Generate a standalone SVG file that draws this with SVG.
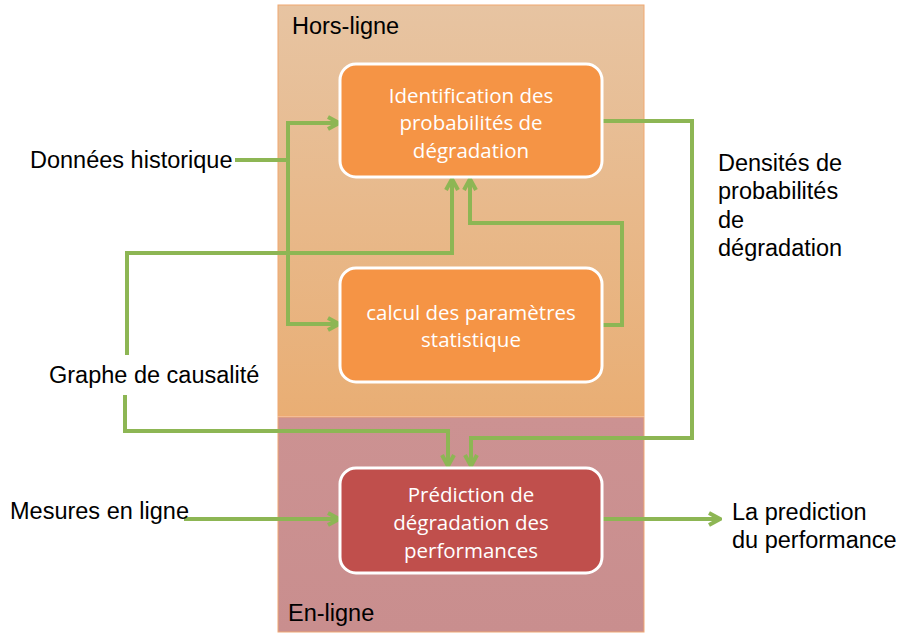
<svg xmlns="http://www.w3.org/2000/svg" width="901" height="635" viewBox="0 0 901 635">
<defs>
<linearGradient id="gOff" x1="0" y1="0" x2="0" y2="1">
<stop offset="0" stop-color="#E7C4A2"/>
<stop offset="1" stop-color="#E9AE74"/>
</linearGradient>
<linearGradient id="gOn" x1="0" y1="0" x2="0" y2="1">
<stop offset="0" stop-color="#CC9292"/>
<stop offset="1" stop-color="#C98E8E"/>
</linearGradient>
<marker id="arr" viewBox="0 0 16 16" refX="14" refY="8" markerWidth="16" markerHeight="16" markerUnits="userSpaceOnUse" orient="auto">
<path d="M3,2 L14,8 L3,14" fill="none" stroke="#8DB654" stroke-width="4" stroke-linejoin="miter"/>
</marker>
</defs>
<style>
.lbl{font-family:"Liberation Sans",Arial,sans-serif;font-size:23.5px;fill:#000}
.btx{font-family:"Open Sans","Noto Sans",sans-serif;font-size:20.5px;fill:#fff;text-anchor:middle}
.box{stroke:#fff;stroke-width:3}
.con{fill:none;stroke:#8DB654;stroke-width:4;stroke-linejoin:miter}
</style>
<rect width="901" height="635" fill="#fff"/>
<g id="hors-ligne">
<rect x="278" y="5" width="366" height="411" fill="url(#gOff)" stroke="#F0A870" stroke-width="1"/>
<text class="lbl" x="292" y="34">Hors-ligne</text>
</g>
<g id="en-ligne">
<rect x="278" y="417" width="366" height="215" fill="url(#gOn)" stroke="#EFA874" stroke-width="1"/>
<text class="lbl" x="288" y="621">En-ligne</text>
</g>
<g id="connectors">
<path class="con" d="M235,160 H288"/>
<path class="con" d="M288,324 V123 H339" marker-end="url(#arr)"/>
<path class="con" d="M288,200 V324 H339" marker-end="url(#arr)"/>
<path class="con" d="M127,355 V253 H452 V179" marker-end="url(#arr)"/>
<path class="con" d="M602,325 H622 V223 H470 V179" marker-end="url(#arr)"/>
<path class="con" d="M125,395 V431 H448 V466" marker-end="url(#arr)"/>
<path class="con" d="M602,121 H692 V438 H471 V466" marker-end="url(#arr)"/>
<path class="con" d="M184,519 H339" marker-end="url(#arr)"/>
<path class="con" d="M602,519 H720" marker-end="url(#arr)"/>
</g>
<g id="n-identification">
<rect class="box" x="340" y="64" width="262" height="113" rx="16" fill="#F59445"/>
<text class="btx" x="471" y="103">Identification des</text>
<text class="btx" x="471" y="130">probabilités de</text>
<text class="btx" x="471" y="158">dégradation</text>
</g>
<g id="n-calcul">
<rect class="box" x="340" y="268" width="262" height="114" rx="16" fill="#F59445"/>
<text class="btx" x="471" y="320">calcul des paramètres</text>
<text class="btx" x="471" y="347">statistique</text>
</g>
<g id="n-prediction">
<rect class="box" x="340" y="468" width="262" height="105" rx="16" fill="#C04F4C"/>
<text class="btx" x="471" y="502">Prédiction de</text>
<text class="btx" x="471" y="530">dégradation des</text>
<text class="btx" x="471" y="558">performances</text>
</g>
<g id="n-donnees"><text class="lbl" x="30" y="168">Données historique</text></g>
<g id="n-graphe"><text class="lbl" x="49" y="383">Graphe de causalité</text></g>
<g id="n-mesures"><text class="lbl" x="10" y="519">Mesures en ligne</text></g>
<g id="n-densites">
<text class="lbl" x="718" y="171">Densités de</text>
<text class="lbl" x="718" y="199">probabilités</text>
<text class="lbl" x="718" y="228">de</text>
<text class="lbl" x="718" y="256">dégradation</text>
</g>
<g id="n-resultat">
<text class="lbl" x="732" y="520">La prediction</text>
<text class="lbl" x="732" y="548">du performance</text>
</g>
</svg>
